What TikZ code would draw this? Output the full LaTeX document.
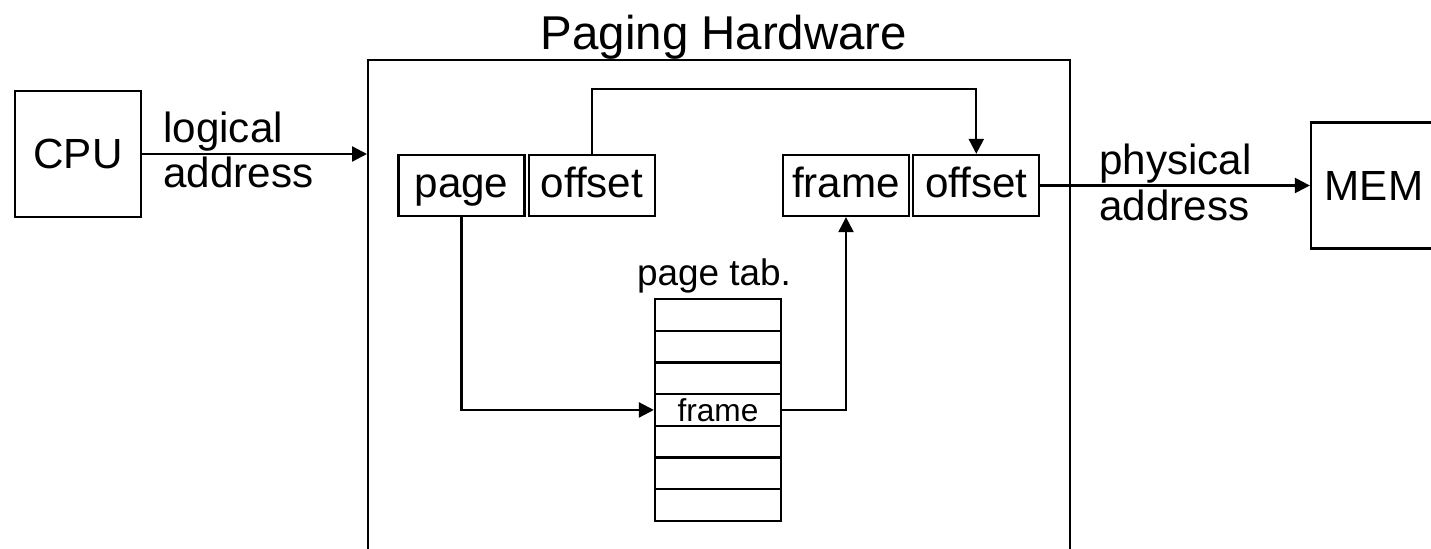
\documentclass[tikz,border=0pt]{standalone}
\usepackage{fontspec}
\setmainfont{Liberation Sans}
\usetikzlibrary{arrows.meta,positioning,calc}

\tikzset{
  box/.style={draw, line width=1.3pt, inner sep=0pt, minimum width=2.52cm, minimum height=2.52cm, font=\fontsize{24}{26}\selectfont},
  field/.style={draw, line width=1.3pt, inner sep=0pt, minimum width=2.52cm, minimum height=1.22cm, text height=17.5pt, text depth=3.4pt, font=\fontsize{24}{26}\selectfont},
  entry/.style={draw, line width=1.3pt, inner sep=0pt, minimum width=2.52cm, minimum height=0.634cm, font=\fontsize{18}{20}\selectfont},
  lbl/.style={inner sep=0pt, align=left, font=\fontsize{24}{26}\selectfont},
  arr/.style={-{Triangle[length=0.3cm,width=0.3cm]}, line width=1.3pt}
}

\begin{document}
\begin{tikzpicture}
\useasboundingbox (0,0) rectangle (28.62,-10.98);
\clip (0,0) rectangle (28.62,-10.98);

% outer blocks
\node[box] (cpu) at (1.56,-3.08) {CPU};
\node[box] (mem) at (27.48,-3.71) {MEM};
\node[draw, line width=1.4pt, anchor=north west, minimum width=14.04cm, minimum height=10.5cm] (hw) at (7.34,-1.18) {};
\node[anchor=base, inner sep=0pt, font=\fontsize{27}{29}\selectfont] (title) at (14.48,-1.0) {Paging Hardware};

% address fields
\node[field] (page) at (9.23,-3.71) {page};
\node[field, right=0.04cm of page] (off) {offset};
\node[field] (frame) at (16.92,-3.71) {frame};
\node[field, right=0.04cm of frame] (off2) {offset};

% page table
\foreach \i/\lab in {1/,2/,3/,4/frame,5/,6/,7/} {
    \node[entry] (pt\i) at (14.36,{-6.297-(\i-1)*0.634}) {\lab};
}
\node[anchor=base, inner sep=0pt, font=\fontsize{21}{23}\selectfont] (ptlbl) at ([xshift=-0.08cm, yshift=0.24cm]pt1.north) {page tab.};

% connectors
\draw[arr] (cpu.east) -- (hw.west |- cpu.east);
\node[lbl, anchor=west] (la) at (3.26,-3.0) {logical\\address};

\draw[arr] (off.north) -- ++(0,1.3) -| (off2.north);
\draw[arr] (page.south) |- (pt4.west);
\draw[arr] (pt4.east) -| (frame.south);

\draw[arr] (off2.east) -- (mem.west |- off2.east);
\node[lbl, anchor=west] (pa) at (21.98,-3.65) {physical\\address};
\end{tikzpicture}
\end{document}
